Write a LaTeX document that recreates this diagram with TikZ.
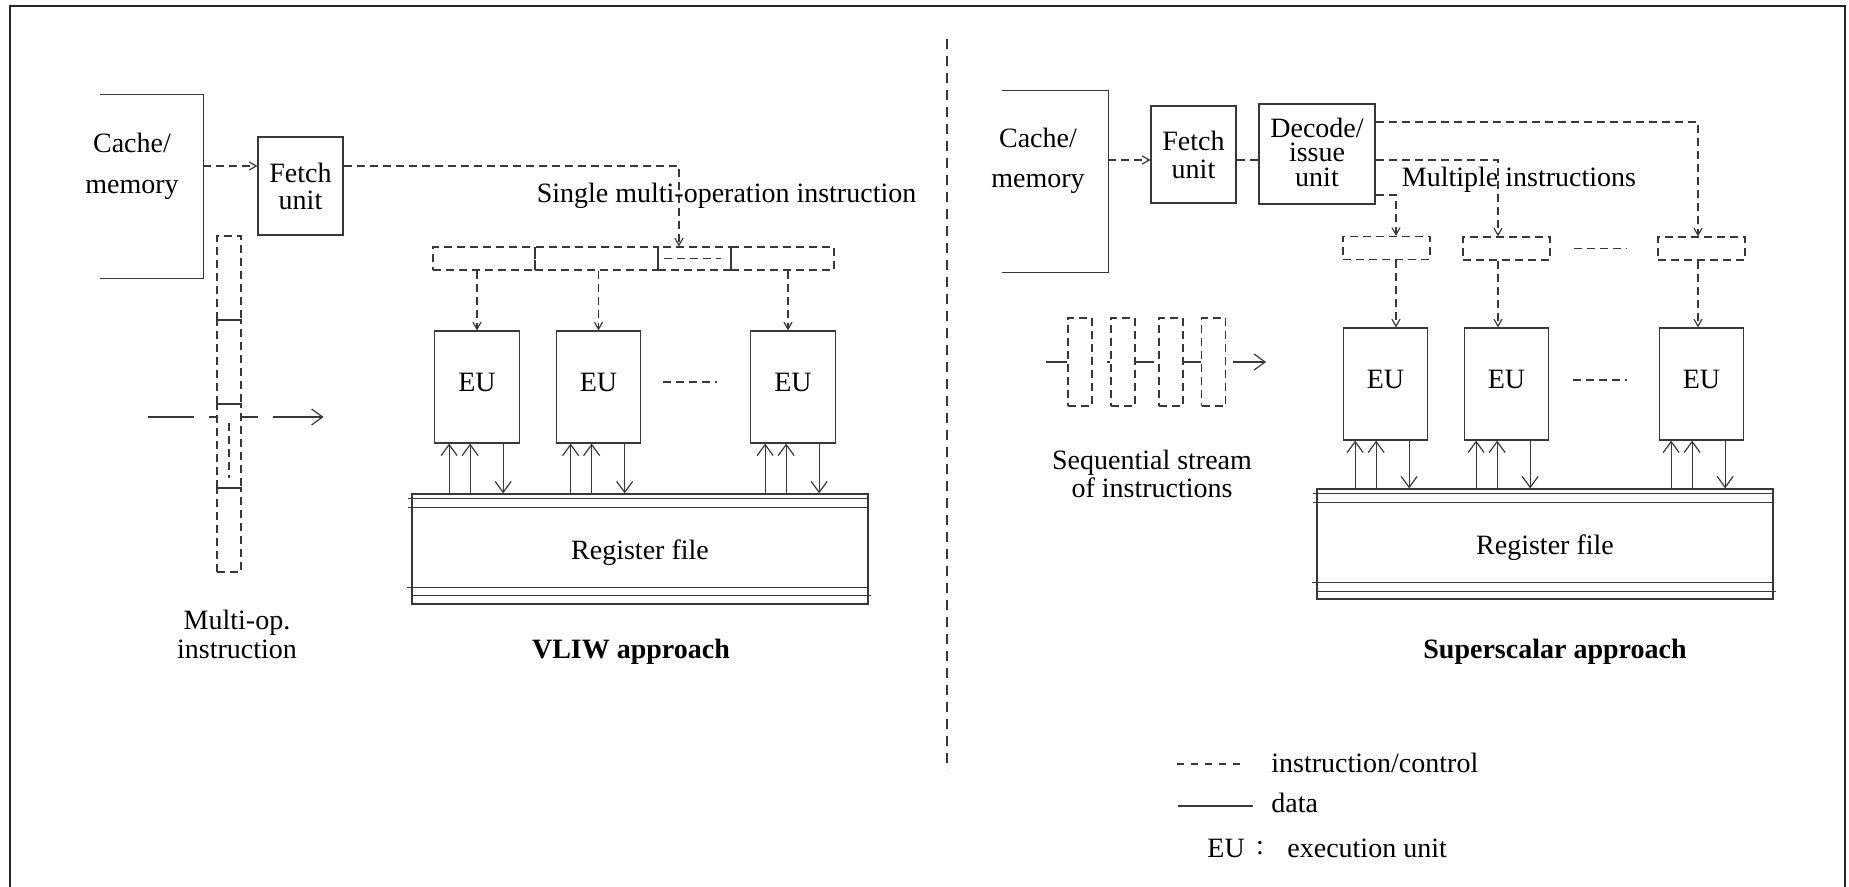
\documentclass[tikz,border=0pt]{standalone}
\usepackage{fontspec}
\setmainfont{Liberation Serif}
\usetikzlibrary{arrows.meta,calc}
\begin{document}
\begin{tikzpicture}[x=0.5pt,y=-0.5pt,
  ln/.style={draw=black!78,line width=0.6pt},
  ctl/.style={ln,dash pattern=on 4pt off 2.5pt},
  ctlsmall/.style={ln,dash pattern=on 3.5pt off 3.5pt},
  ctip/.tip={Straight Barb[length=3.5pt,width=4pt]},
  dtip/.tip={Straight Barb[length=5.5pt,width=8pt]},
  txt/.style={inner sep=0pt,font=\fontsize{14}{14}\selectfont},
  blank/.style={inner sep=0pt},
  unitbox/.style={ln,inner sep=0pt,align=center},
  field/.style={ctl,inner sep=0pt,minimum height=11.5pt},
  eubox/.style={unitbox,font=\fontsize{14}{14}\selectfont,minimum width=42.25pt,minimum height=56pt,text depth=5pt},
  regbox/.style={unitbox,font=\fontsize{14}{14}\selectfont,minimum width=228pt,minimum height=55pt,text height=13.1pt},
  stackbox/.style={ctl,inner sep=0pt,minimum width=12pt},
]
\useasboundingbox (0,0) rectangle (1849,887);
% outer frame
\draw[black!85,line width=1pt] (10,887) -- (10,6) -- (1845,6) -- (1845,887);

% ================= VLIW =================
\node[blank,minimum width=51.5pt,minimum height=91.5pt] (cacheL) at (151.5,186.5) {};
\draw[ln] (cacheL.north west) -- (cacheL.north east) -- (cacheL.south east) -- (cacheL.south west);
\node[txt,anchor=base] (cacheLa) at (132,153) {Cache/};
\node[txt,anchor=base] (cacheLb) at (132,194) {memory};

\node[unitbox,font=\fontsize{14}{13.5}\selectfont,minimum width=42.5pt,minimum height=49pt] (fetchL) at (300.5,186) {Fetch\\unit};
\draw[ctl,-{ctip}] ($(cacheL.east |- fetchL.west)+(0,-20)$) -- ($(fetchL.west)+(0,-20)$);

% instruction word
\node[field,minimum width=51pt] (f1) at (484,258.5) {};
\node[field,minimum width=61.5pt] (f2) at (596.5,258.5) {};
\node[field,minimum width=36.5pt] (f3) at (694.5,258.5) {};
\node[field,minimum width=51.5pt] (f4) at (782.5,258.5) {};
\draw[ctl] ($(f3.west)+(7,0)$) -- ($(f3.east)+(-11,0)$);
\draw[ctl,-{ctip}] ($(fetchL.east)+(0,-20)$) -| ($(f3.north)+(-15.5,0)$);
\node[txt,anchor=base] (singlelbl) at (726.5,203) {Single multi-operation instruction};

% EUs
\node[eubox] (euL1) at (477,387) {EU};
\node[eubox] (euL2) at (598.5,387) {EU};
\node[eubox] (euL3) at (793,387) {EU};
\draw[ctl,-{ctip}] (f1.south -| euL1.north) -- (euL1.north);
\draw[ctl,-{ctip}] (f2.south -| euL2.north) -- (euL2.north);
\draw[ctl,-{ctip}] ($(f4.south -| euL3.north)+(-5,0)$) -- ($(euL3.north)+(-5,0)$);
\draw[ctl] ($(euL2.east)+(22,-5)$) -- ($(euL3.west)+(-33,-5)$);

% register file
\node[regbox] (regL) at (640,549) {Register file};
\draw[ln] ($(regL.north west)+(-3,5)$) -- ($(regL.north east)+(0,5)$);
\draw[ln] ($(regL.north west)+(-3,14)$) -- ($(regL.north east)+(0,14)$);
\draw[ln] ($(regL.south west)+(-4,-17)$) -- ($(regL.south east)+(0,-17)$);
\draw[ln] ($(regL.south west)+(0,-9)$) -- ($(regL.south east)+(2,-9)$);
\foreach \e in {euL1,euL2,euL3}{
  \draw[ln,-{dtip}] ($(\e.south west |- regL.north)+(15,0)$) -- ($(\e.south west)+(15,0)$);
  \draw[ln,-{dtip}] ($(\e.south west |- regL.north)+(36,0)$) -- ($(\e.south west)+(36,0)$);
  \draw[ln,-{dtip}] ($(\e.south west)+(69,0)$) -- ($(\e.south west |- regL.north)+(69,0)$);
}
\node[txt,font=\fontsize{14}{14}\selectfont\bfseries] (vliw) at (631,652) {VLIW approach};

% multi-op instruction stack
\node[stackbox,minimum height=42pt] (m1) at (229,278) {};
\node[stackbox,minimum height=42pt] (m2) at (229,362) {};
\node[stackbox,minimum height=42pt] (m3) at (229,446) {};
\node[stackbox,minimum height=42pt] (m4) at (229,530) {};
\draw[ctl] ($(m3.center)+(0,-23)$) -- ($(m3.center)+(0,32)$);
\draw[ln] ($(m3.west)+(-68,-29)$) -- ($(m3.west)+(-22,-29)$);
\draw[ln] ($(m3.west)+(-7,-29)$) -- ($(m3.west)+(0,-29)$);
\draw[ln] ($(m3.east)+(0,-29)$) -- ($(m3.east)+(16,-29)$);
\draw[ln,-{dtip}] ($(m3.east)+(31,-29)$) -- ($(m3.east)+(82,-29)$);
\node[txt,align=center,font=\fontsize{14}{14.5}\selectfont] (multiop) at (237,634) {Multi-op.\\instruction};

% divider
\draw[ln,dash pattern=on 5pt off 3.5pt] (947,39) -- (947,770);

% ================= Superscalar =================
\node[blank,minimum width=53pt,minimum height=90.5pt] (cacheR) at (1055,181.5) {};
\draw[ln] (cacheR.north west) -- (cacheR.north east) -- (cacheR.south east) -- (cacheR.south west);
\node[txt,anchor=base] (cacheRa) at (1038,148) {Cache/};
\node[txt,anchor=base] (cacheRb) at (1038,188) {memory};

\node[unitbox,font=\fontsize{14}{14}\selectfont,minimum width=42.5pt,minimum height=48.5pt] (fetchR) at (1193.5,154.5) {Fetch\\unit};
\node[unitbox,font=\fontsize{14}{12.2}\selectfont,minimum width=58pt,minimum height=50pt] (decR) at (1317,154) {\raisebox{2pt}{Decode/}\\\raisebox{2pt}{issue}\\\raisebox{2pt}{unit}};
\draw[ctl,-{ctip}] ($(cacheR.east |- fetchR.west)+(0,5.5)$) -- ($(fetchR.west)+(0,5.5)$);
\draw[ctl] ($(fetchR.east)+(0,5.5)$) -- ($(decR.west |- fetchR.east)+(0,5.5)$);

\coordinate (col1) at (1396,0);
\coordinate (col2) at (1498,0);
\coordinate (col3) at (1698,0);
\node[field,minimum width=43.5pt] (slot1) at (1386.5,248) {};
\node[field,minimum width=43.5pt] (slot2) at (1506.5,248.5) {};
\node[field,minimum width=43.5pt] (slot3) at (1701.5,248.5) {};
\draw[ctl,-{ctip}] ($(decR.east)+(0,41)$) -| (col1 |- slot1.north);
\draw[ctl,-{ctip}] ($(decR.east)+(0,6)$) -| (col2 |- slot2.north);
\draw[ctl,-{ctip}] ($(decR.east)+(0,-32)$) -| (col3 |- slot3.north);
\draw[ctl] ($(slot2.east)+(23,0)$) -- ($(slot3.west)+(-31,0)$);
\node[txt,anchor=base] (multlbl) at (1519,187) {Multiple instructions};

\node[eubox] (euR1) at (1385.5,384) {EU};
\node[eubox] (euR2) at (1506.5,384) {EU};
\node[eubox] (euR3) at (1701.5,384) {EU};
\draw[ctl,-{ctip}] (col1 |- slot1.south) -- (col1 |- euR1.north);
\draw[ctl,-{ctip}] (col2 |- slot2.south) -- (col2 |- euR2.north);
\draw[ctl,-{ctip}] (col3 |- slot3.south) -- (col3 |- euR3.north);
\draw[ctl] ($(euR2.east)+(24,-4)$) -- ($(euR3.west)+(-32,-4)$);

\node[regbox] (regR) at (1545,544) {Register file};
\draw[ln] ($(regR.north west)+(-3,5)$) -- ($(regR.north east)+(0,5)$);
\draw[ln] ($(regR.north west)+(-3,14)$) -- ($(regR.north east)+(0,14)$);
\draw[ln] ($(regR.south west)+(-4,-17)$) -- ($(regR.south east)+(0,-17)$);
\draw[ln] ($(regR.south west)+(0,-8)$) -- ($(regR.south east)+(2,-8)$);
\foreach \e in {euR1,euR2,euR3}{
  \draw[ln,-{dtip}] ($(\e.south west |- regR.north)+(12.5,0)$) -- ($(\e.south west)+(12.5,0)$);
  \draw[ln,-{dtip}] ($(\e.south west |- regR.north)+(33.5,0)$) -- ($(\e.south west)+(33.5,0)$);
  \draw[ln,-{dtip}] ($(\e.south west)+(66.5,0)$) -- ($(\e.south west |- regR.north)+(66.5,0)$);
}
\node[txt,font=\fontsize{14}{14}\selectfont\bfseries] (sslbl) at (1555,652) {Superscalar approach};

% sequential stream
\node[stackbox,minimum height=44pt] (s1) at (1080,362) {};
\node[stackbox,minimum height=44pt] (s2) at (1123,362) {};
\node[stackbox,minimum height=44pt] (s3) at (1171,362) {};
\node[stackbox,minimum height=44pt] (s4) at (1213.5,362) {};
\draw[ln] ($(s1.west)+(-21,0)$) -- (s1.west);
\draw[ln] ($(s2.west)+(-3,0)$) -- (s2.west);
\draw[ln] (s2.east) -- ($(s3.west)+(-4,0)$);
\draw[ln] (s3.east) -- (s4.west);
\draw[ln,-{dtip}] ($(s4.east)+(7,0)$) -- ($(s4.east)+(40,0)$);
\node[txt,align=center,font=\fontsize{14}{14}\selectfont] (seqlbl) at (1152,474) {Sequential stream\\of instructions};

% legend
\node[txt,anchor=west] (lg1) at (1271,763) {instruction/control};
\draw[ctlsmall] ($(lg1.west)+(-94,1)$) -- ($(lg1.west)+(-24,1)$);
\node[txt,anchor=west] (lg2) at (1271,803) {data};
\draw[ln] ($(lg2.west)+(-93,3)$) -- ($(lg2.west)+(-18,3)$);
\node[txt,anchor=west] (lg3) at (1207,848) {EU};
\node[txt] (lg3c) at (1260,848) {:};
\node[txt,anchor=west] (lg3b) at (1287,848) {execution unit};
\end{tikzpicture}
\end{document}
